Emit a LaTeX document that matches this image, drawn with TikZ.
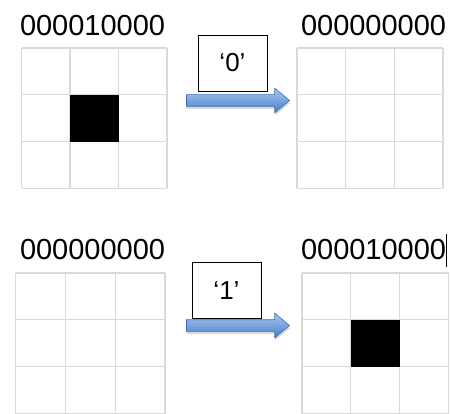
\documentclass[tikz,border=0pt]{standalone}
\usepackage{fontspec}
\setmainfont{Liberation Sans}
\usetikzlibrary{shapes.arrows,shadows,calc,fit}
\definecolor{gridgray}{RGB}{217,217,217}
\definecolor{arrtop}{RGB}{168,200,240}
\definecolor{arrbot}{RGB}{72,126,202}
\definecolor{arredge}{RGB}{62,108,178}
\newcommand\cellgrid[6]{% name, x0, y0, x1, y1, filled centre (1/0)
  \coordinate (#1a) at (#2,#3);
  \coordinate (#1b) at (#4,#5);
  \node[gridframe, fit=(#1a)(#1b)] (#1) {};
  \foreach \t in {0,0.33333,0.66667,1}{
    \draw[gridln] ($(#1.north west)!\t!(#1.north east)$) -- ($(#1.south west)!\t!(#1.south east)$);
    \draw[gridln] ($(#1.north west)!\t!(#1.south west)$) -- ($(#1.north east)!\t!(#1.south east)$);
  }
  \ifnum#6=1
    \coordinate (#1p) at ($(#1.north west)!0.33333!(#1.south east)$);
    \coordinate (#1q) at ($(#1.north west)!0.66667!(#1.south east)$);
    \node[blk, fit=(#1p)(#1q)] (#1c) {};
  \fi
}
\begin{document}
\begin{tikzpicture}[x=1pt,y=-1pt,
  bits/.style={anchor=base west,inner sep=0pt,font=\fontsize{29}{33}\selectfont},
  lab/.style={draw=black,line width=0.8pt,fill=white,inner sep=0pt,
    font=\fontsize{26}{30}\selectfont,minimum width=69pt,minimum height=56pt},
  gridframe/.style={inner sep=0pt,outer sep=0pt,draw=none},
  blk/.style={fill=black,draw=none,inner sep=0pt,outer sep=0pt},
  gridln/.style={draw=gridgray,line width=1.3pt},
  bigarrow/.style={single arrow,single arrow tip angle=80,single arrow head extend=6.5pt,
    inner xsep=0pt,inner ysep=5.5pt,minimum height=103pt,outer sep=0pt,
    top color=arrtop,bottom color=arrbot,draw=arredge,line width=0.6pt,
    drop shadow={shadow xshift=0.5pt,shadow yshift=-2.5pt,opacity=0.25,fill=black!60}},
  cursorln/.style={draw=black,line width=0.8pt}]
\useasboundingbox[fill=white] (0,0) rectangle (450,414);

% top row
\node[bits] (t1) at (19.8,36) {000010000};
\cellgrid{gA}{21.5}{48}{167}{188.5}{1}
\node[bigarrow] (ar1) at (234.5,100.5) {};
\node[lab] (l0) at (232.5,63) {‘0’};
\node[bits] (t2) at (300.8,36) {000000000};
\cellgrid{gB}{297}{48}{443}{188.5}{0}

% bottom row
\node[bits] (t3) at (19.8,260) {000000000};
\cellgrid{gC}{15.5}{273}{165}{413.5}{0}
\node[bigarrow] (ar2) at (234.5,325.5) {};
\node[lab] (l1) at (226.5,290.5) {‘1’};
\node[bits] (t4) at (300.8,260) {000010000};
\cellgrid{gD}{302}{273}{448.5}{413.5}{1}
\coordinate (cu1) at (446,234);
\coordinate (cu2) at (446,267);
\draw[cursorln] (cu1) -- (cu2);
\end{tikzpicture}
\end{document}
